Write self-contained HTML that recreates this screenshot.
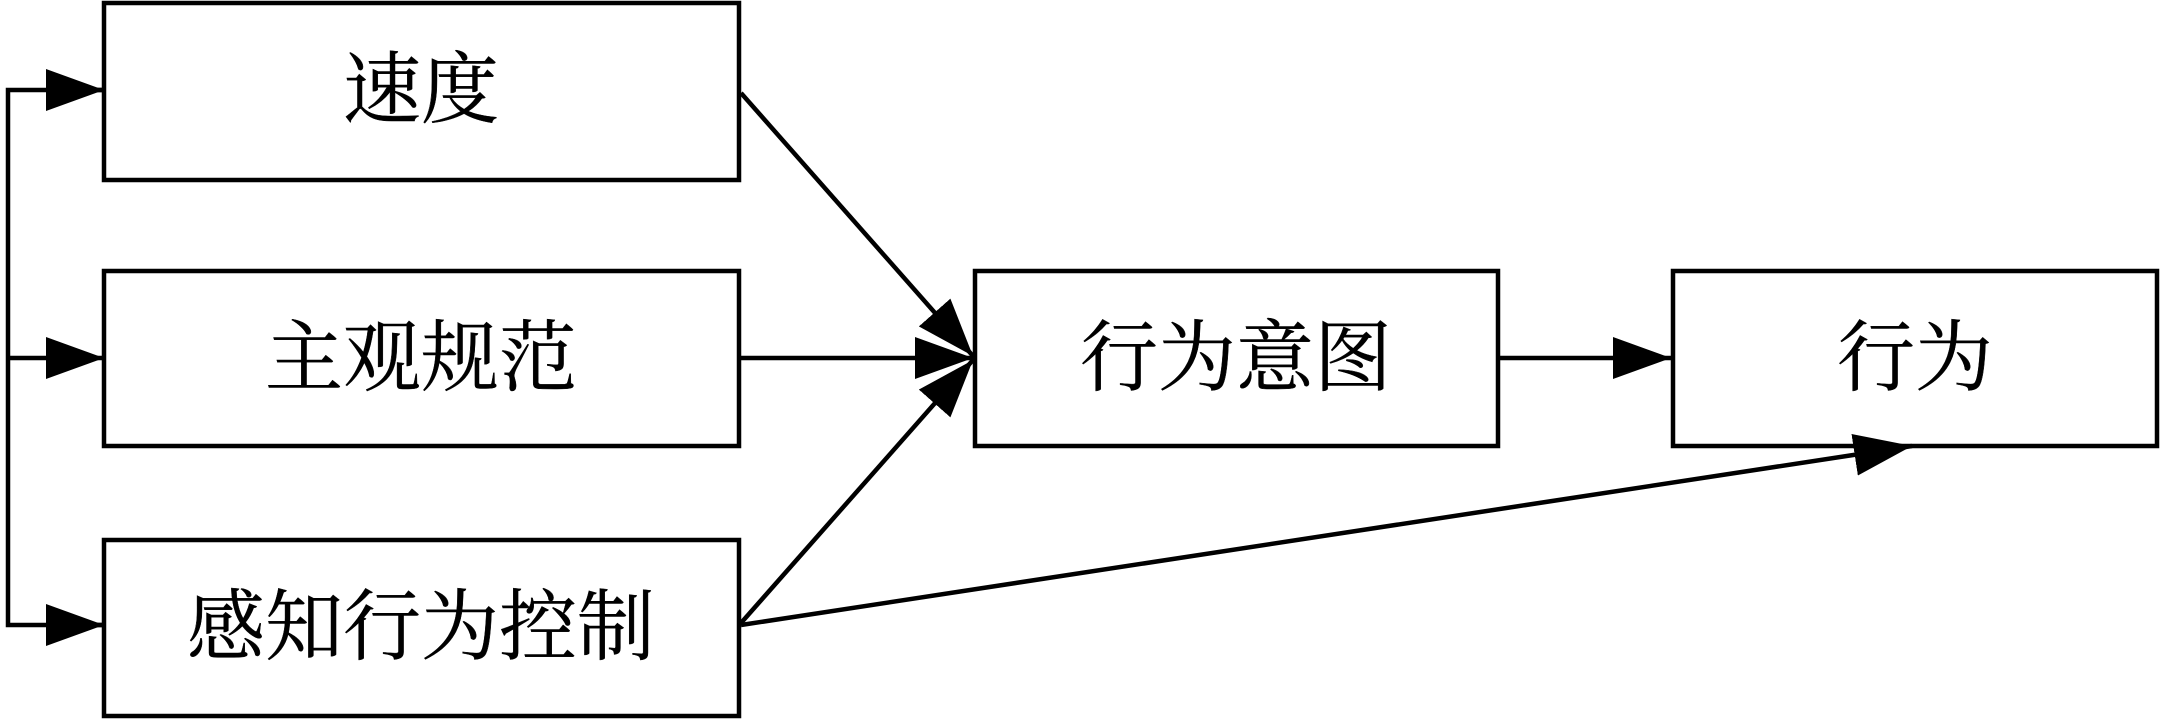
<!DOCTYPE html>
<html><head><meta charset="utf-8"><style>
html,body{margin:0;padding:0;background:#fff;}
svg text{font-family:"Liberation Serif","Noto Serif CJK SC",serif;font-size:78px;fill:#000;stroke:#000;stroke-width:0.4;text-anchor:middle;dominant-baseline:central;}
</style></head><body>
<svg width="2165" height="720" viewBox="0 0 2165 720" xmlns="http://www.w3.org/2000/svg">
<defs>
<marker id="a" markerWidth="58" markerHeight="42" refX="58" refY="21" orient="auto" markerUnits="userSpaceOnUse">
<path d="M0,0 L58,21 L0,42 Z" fill="#000"/>
</marker>
</defs>
<g fill="none" stroke="#000" stroke-width="4.5">
<rect x="104" y="3" width="635" height="177"/>
<rect x="104" y="271" width="635" height="175"/>
<rect x="104" y="540" width="635" height="176"/>
<rect x="975" y="271" width="523" height="175"/>
<rect x="1673" y="271" width="484" height="175"/>
<polyline points="104,90 8,90 8,625 104,625"/>
<line x1="8" y1="358" x2="104" y2="358" marker-end="url(#a)"/>
<line x1="50" y1="90" x2="104" y2="90" marker-end="url(#a)"/>
<line x1="50" y1="625" x2="104" y2="625" marker-end="url(#a)"/>
<line x1="741" y1="93" x2="973" y2="356" marker-end="url(#a)"/>
<line x1="741" y1="358" x2="973" y2="358" marker-end="url(#a)"/>
<line x1="741" y1="623" x2="973" y2="360" marker-end="url(#a)"/>
<line x1="1500" y1="358" x2="1671" y2="358" marker-end="url(#a)"/>
<line x1="741" y1="625" x2="1912" y2="446" marker-end="url(#a)"/>
</g>
<text x="421" y="90">速度</text>
<text x="421" y="358">主观规范</text>
<text x="421" y="627">感知行为控制</text>
<text x="1236" y="358">行为意图</text>
<text x="1915" y="358">行为</text>
</svg>
</body></html>
